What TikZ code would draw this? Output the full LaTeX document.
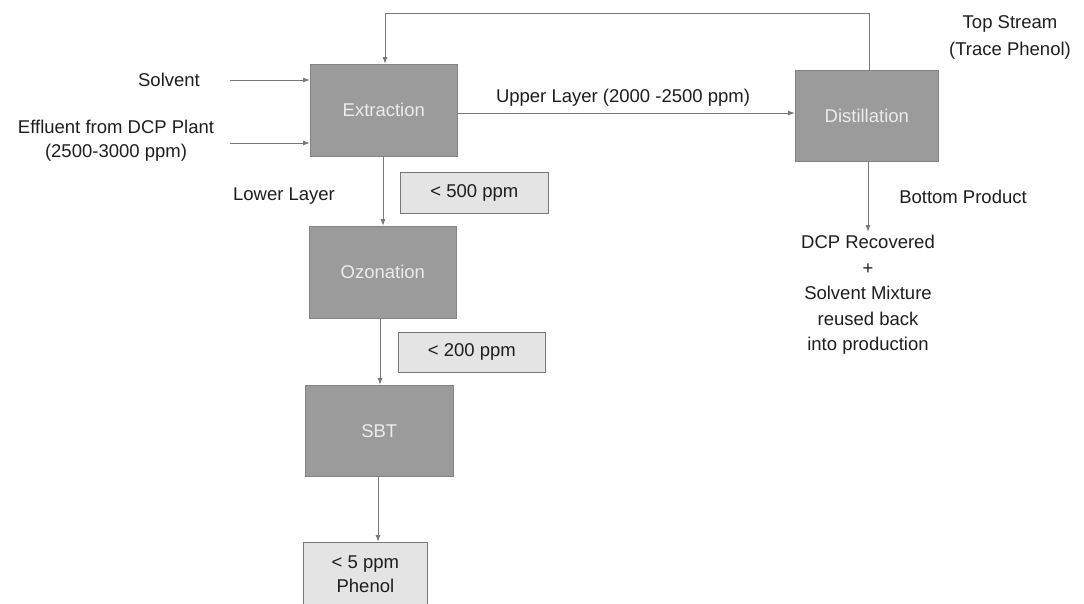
\documentclass[tikz,border=0pt]{standalone}
\usepackage{fontspec}
\setmainfont{Liberation Sans}
\usetikzlibrary{arrows.meta}
\definecolor{boxgray}{RGB}{155,155,155}
\definecolor{lightbox}{RGB}{228,228,228}
\definecolor{linegray}{RGB}{120,120,120}
\definecolor{txt}{RGB}{30,30,30}
\begin{document}
\begin{tikzpicture}[x=1pt,y=-1pt,
  every node/.style={font=\fontsize{18.5}{24}\selectfont, text=txt},
  procbox/.style={fill=boxgray, draw=boxgray!85!black, line width=0.6pt, minimum width=147pt, minimum height=92pt, inner sep=0pt, anchor=north west, text=white!85!gray},
  ppmbox/.style={fill=lightbox, draw=linegray, line width=0.8pt, inner sep=0pt, anchor=north west},
  flow/.style={draw=linegray, line width=1pt, -{Latex[length=7pt,width=5pt]}},
  plain/.style={draw=linegray, line width=1pt},
  lbl/.style={align=center}]
\useasboundingbox (0,0) rectangle (1084,603);
% process boxes
\node[procbox] (ext) at (310,64) {Extraction};
\node[procbox, minimum width=143pt, minimum height=91pt] (dist) at (795,70) {Distillation};
\node[procbox, minimum width=147pt, minimum height=92pt] (ozo) at (309,226) {Ozonation};
\node[procbox, minimum width=148pt, minimum height=91pt] (sbt) at (305,385) {SBT};
% ppm boxes
\node[ppmbox, minimum width=148pt, minimum height=41pt] (p500) at (400,172) {< 500 ppm};
\node[ppmbox, minimum width=147pt, minimum height=40pt] (p200) at (398,332) {< 200 ppm};
\node[ppmbox, minimum width=124pt, minimum height=64pt, align=center] (p5) at (303,542) {< 5 ppm\\Phenol};
% text labels
\node (solv) at (169,80) {Solvent};
\node[lbl] (eff) at (116,141) {Effluent from DCP Plant\\(2500-3000 ppm)};
\node (lower) at (284,196) {Lower Layer};
\node (upper) at (623,98) {Upper Layer (2000 -2500 ppm)};
\node[lbl] (top) at (1010,37) {Top Stream\\[3pt](Trace Phenol)};
\node (bottom) at (963,197) {Bottom Product};
\node[lbl, anchor=north] (rec) at (868,232) {DCP Recovered\\[1.5pt]+\\[1.5pt]Solvent Mixture\\[1.5pt]reused back\\[1.5pt]into production};
% coordinates
\coordinate (sIn) at (230,80);
\coordinate (eIn) at (230,143);
\coordinate (tl) at (385,13);
\coordinate (tr) at (869,13);
% connectors
\draw[flow] (sIn) -- (ext.west |- sIn);
\draw[flow] (eIn) -- (ext.west |- eIn);
\draw[flow] (ext.east |- 0,113) -- (dist.west |- 0,113);
\draw[plain] (dist.north -| tr) -- (tr) -- (tl);
\draw[flow] (tl) -- (ext.north -| tl);
\draw[flow] (ext.south -| 383,0) -- (ozo.north -| 383,0);
\draw[flow] (ozo.south -| 380,0) -- (sbt.north -| 380,0);
\draw[flow] (sbt.south -| 378,0) -- (p5.north -| 378,0);
\draw[flow] (dist.south -| 868,0) -- (rec.north -| 868,0);
\end{tikzpicture}
\end{document}
